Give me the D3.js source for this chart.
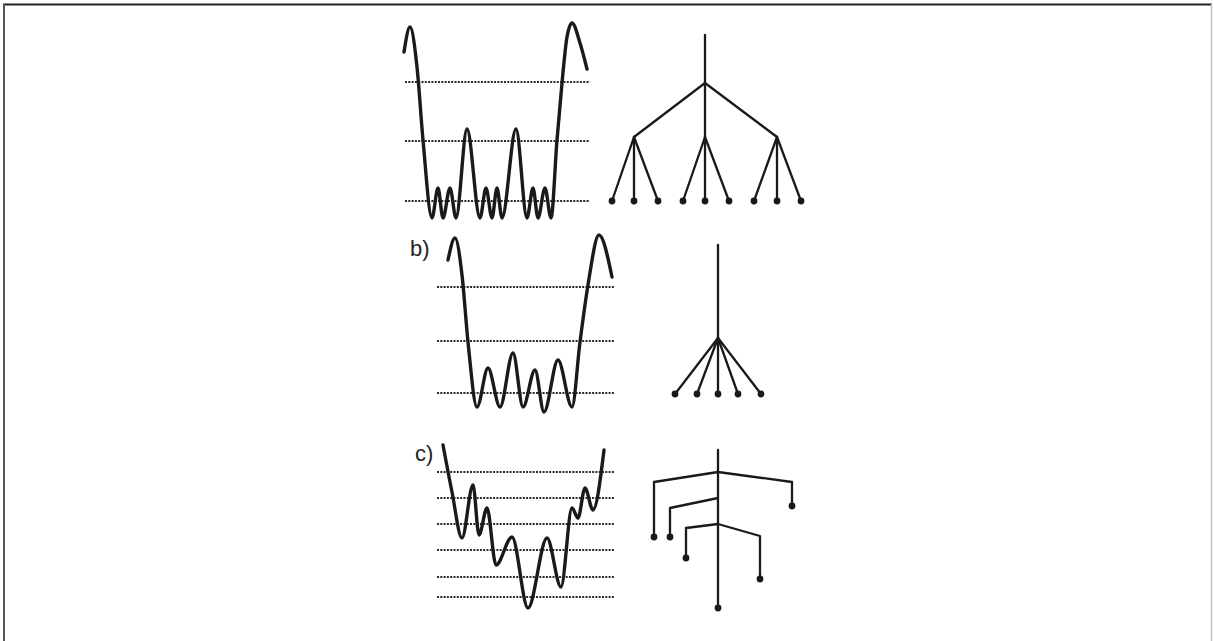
<!DOCTYPE html>
<html>
<head>
<meta charset="utf-8">
<script src="https://cdn.jsdelivr.net/npm/d3@7"></script>
<style>
  html, body { margin: 0; padding: 0; background: #fff; }
  svg { display: block; }
</style>
</head>
<body>
<div id="chart"></div>
<script>
// landscape points: [position, energy] (energy measured up from the panel floor)
var landscapeA = [[4,166],[10,191],[17,151],[23,78],[32,0],[38,30],[43,0],[50,30],[56,0],[67,89],
  [80,0],[86,30],[92,0],[97,30],[102,0],[116,89],[127,0],[133,30],[138,0],[145,30],[151,0],
  [157,78],[162,135],[167,181],[172,195],[180,175],[187,149]];
var landscapeB = [[48,152],[55,174],[62,137],[68,70],[77,5],[88,44],[100,5],[113,59],[123,5],
  [135,42],[144,0],[158,52],[172,5],[180,70],[188,127],[199,177],[212,135]];
var landscapeC = [[43,163],[52,116],[62,70],[73,123],[79,73],[87,100],[96,43],[112,71],[128,0],
  [147,70],[161,21],[172,100],[178,90],[185,120],[193,98],[204,158]];

// energy levels (dotted lines)
var levelsA = [136, 77, 17];
var levelsB = [125, 71, 19];
var levelsC = [136, 110, 84, 58, 31, 11];

// tree a: top, root, children, leaves
var treeATop = 183, treeARoot = 135, treeAMid = 81, treeALeaf = 17;
var treeARootCol = 105;
var treeAChildCols = [34, 105, 177];
var treeALeafCols = [[12, 34, 58], [83, 105, 129], [154, 177, 201]];

// tree b: star
var treeBTop = 167, treeBNode = 74, treeBLeaf = 18;
var treeBCol = 118;
var treeBLeafCols = [75, 97, 118, 138, 161];

// tree c: trunk + branches {join, col, elbow, leaf}
var treeCTop = 158, treeCBottom = 0, treeCCol = 118;
var treeCBranches = [
  { join: 136, col: 54,  elbow: 126, leaf: 71 },
  { join: 136, col: 192, elbow: 126, leaf: 102 },
  { join: 110, col: 70,  elbow: 100, leaf: 71 },
  { join: 84,  col: 86,  elbow: 80,  leaf: 50 },
  { join: 84,  col: 160, elbow: 72,  leaf: 29 }
];

var W = 1213, H = 641;
var ink = '#1a1a1a';

var svg = d3.select('#chart').append('svg')
  .attr('width', W).attr('height', H);

// frame
svg.append('line').attr('x1', 3).attr('x2', 1212).attr('y1', 4.5).attr('y2', 4.5)
  .attr('stroke', '#222').attr('stroke-width', 2);
svg.append('line').attr('x1', 4).attr('x2', 4).attr('y1', 4).attr('y2', H)
  .attr('stroke', '#555').attr('stroke-width', 2);
svg.append('line').attr('x1', 1211.5).attr('x2', 1211.5).attr('y1', 4).attr('y2', H)
  .attr('stroke', '#c4c4c4').attr('stroke-width', 1.5);

var xLand = d3.scaleLinear().domain([0, 220]).range([400, 620]);
var xTree = d3.scaleLinear().domain([0, 220]).range([600, 820]);

function panel(floorY, pts, levels, lvlX0, lvlX1) {
  var y = d3.scaleLinear().domain([0, 200]).range([floorY, floorY - 200]);
  var g = svg.append('g');
  g.selectAll('line.lvl').data(levels).enter().append('line')
    .attr('class', 'lvl')
    .attr('x1', xLand(lvlX0)).attr('x2', xLand(lvlX1))
    .attr('y1', function(d) { return y(d); })
    .attr('y2', function(d) { return y(d); })
    .attr('stroke', '#2a2a2a').attr('stroke-width', 2.2)
    .attr('stroke-dasharray', '2,1.3');
  var line = d3.line()
    .x(function(d) { return xLand(d[0]); })
    .y(function(d) { return y(d[1]); })
    .curve(d3.curveMonotoneX);
  g.append('path').datum(pts).attr('d', line)
    .attr('fill', 'none').attr('stroke', ink).attr('stroke-width', 3.4)
    .attr('stroke-linejoin', 'round').attr('stroke-linecap', 'round');
  return y;
}

function seg(x1, y1, x2, y2) {
  svg.append('line').attr('x1', x1).attr('y1', y1).attr('x2', x2).attr('y2', y2)
    .attr('stroke', ink).attr('stroke-width', 2.3).attr('stroke-linecap', 'round');
}
function dot(x, y) {
  svg.append('circle').attr('cx', x).attr('cy', y).attr('r', 3.4).attr('fill', ink);
}

// ---- panel a
var yA = panel(218, landscapeA, levelsA, 5, 190);
seg(xTree(treeARootCol), yA(treeATop), xTree(treeARootCol), yA(treeARoot));
treeAChildCols.forEach(function(c, i) {
  seg(xTree(treeARootCol), yA(treeARoot), xTree(c), yA(treeAMid));
  treeALeafCols[i].forEach(function(l) {
    seg(xTree(c), yA(treeAMid), xTree(l), yA(treeALeaf));
    dot(xTree(l), yA(treeALeaf));
  });
});

// ---- panel b
var yB = panel(412, landscapeB, levelsB, 37, 215);
seg(xTree(treeBCol), yB(treeBTop), xTree(treeBCol), yB(treeBNode));
treeBLeafCols.forEach(function(l) {
  seg(xTree(treeBCol), yB(treeBNode), xTree(l), yB(treeBLeaf));
  dot(xTree(l), yB(treeBLeaf));
});

// ---- panel c
var yC = panel(608, landscapeC, levelsC, 37, 215);
seg(xTree(treeCCol), yC(treeCTop), xTree(treeCCol), yC(treeCBottom));
dot(xTree(treeCCol), yC(treeCBottom));
treeCBranches.forEach(function(b) {
  svg.append('path')
    .attr('d', 'M' + xTree(treeCCol) + ',' + yC(b.join) +
               'L' + xTree(b.col) + ',' + yC(b.elbow) +
               'L' + xTree(b.col) + ',' + yC(b.leaf))
    .attr('fill', 'none').attr('stroke', ink).attr('stroke-width', 2.3)
    .attr('stroke-linejoin', 'round');
  dot(xTree(b.col), yC(b.leaf));
});

// labels
svg.append('text').attr('x', 410).attr('y', 256)
  .attr('font-family', 'Liberation Sans, Arial, sans-serif').attr('font-size', 22)
  .attr('fill', '#222').text('b)');
svg.append('text').attr('x', 415).attr('y', 461)
  .attr('font-family', 'Liberation Sans, Arial, sans-serif').attr('font-size', 22)
  .attr('fill', '#222').text('c)');
</script>
</body>
</html>
